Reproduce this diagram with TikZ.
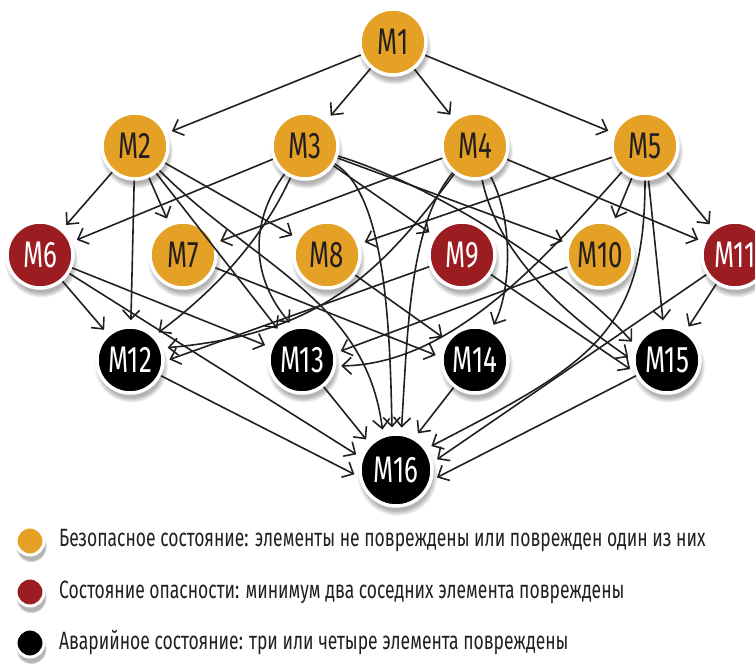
\documentclass[tikz,border=0pt]{standalone}
\usepackage{fontspec}
\setmainfont{Fira Sans}[FakeStretch=0.7]
\usetikzlibrary{arrows.meta,shadows}
\definecolor{cSafe}{RGB}{229,161,37}
\definecolor{cDanger}{RGB}{155,29,34}
\definecolor{cDark}{RGB}{35,31,32}
\begin{document}
\begin{tikzpicture}[x=1pt,y=1pt,
 mstate/.style={circle,minimum size=66pt,inner sep=0pt,draw=white,line width=3.5pt,
   font=\fontsize{37}{37}\selectfont,
   circular drop shadow={shadow xshift=1pt,shadow yshift=-5pt,shadow scale=1.12,opacity=0.6}},
 msafe/.style={mstate,fill=cSafe,text=cDark},
 mdanger/.style={mstate,fill=cDanger,text=white},
 mcrash/.style={mstate,fill=black,text=white},
 medge/.style={draw=cDark,line width=1.6pt,-{Straight Barb[length=9pt,width=17pt]},shorten >=5pt},
 legdot/.style={minimum size=28pt,line width=3pt},
 legtext/.style={anchor=west,inner sep=0pt,text=cDark,font=\fontsize{25}{28}\selectfont}]
\useasboundingbox (0,0) rectangle (755,664);
% nodes
\node[msafe] (M1) at (393,622) {M1};
\node[msafe] (M2) at (135,518) {M2};
\node[msafe] (M3) at (305,518) {M3};
\node[msafe] (M4) at (475,518) {M4};
\node[msafe] (M5) at (645,518) {M5};
\node[mdanger] (M6) at (40,409) {M6};
\node[msafe] (M7) at (183,409) {M7};
\node[msafe] (M8) at (327,409) {M8};
\node[mdanger] (M9) at (462,409) {M9};
\node[msafe] (M10) at (600,409) {M10};
\node[mdanger] (M11) at (735,409) {M11};
\node[mcrash] (M12) at (130,304) {M12};
\node[mcrash] (M13) at (302,304) {M13};
\node[mcrash] (M14) at (475,304) {M14};
\node[mcrash] (M15) at (667,304) {M15};
\node[mcrash,minimum size=72pt] (M16) at (396,194) {M16};
% edges
\draw[medge] (M1) -- (M2);
\draw[medge] (M1) -- (M3);
\draw[medge] (M1) -- (M4);
\draw[medge] (M1) -- (M5);
\draw[medge] (M2) -- (M6);
\draw[medge] (M2) -- (M7);
\draw[medge] (M2) -- (M8);
\draw[medge] (M2) -- (M12);
\draw[medge] (M2) -- (M13);
\draw[medge] (M2) .. controls (256,397) and (366,364) .. (M16.110);
\draw[medge] (M3) -- (M6);
\draw[medge] (M3) -- (M9);
\draw[medge] (M3) -- (M10);
\draw[medge] (M3) .. controls (260,420) and (210,370) .. (M12.45);
\draw[medge] (M3) .. controls (248,440) and (252,385) .. (M13.105);
\draw[medge] (M3) .. controls (430,480) and (560,400) .. (M15.155);
\draw[medge] (M3) .. controls (385,470) and (390,340) .. (M16.96);
\draw[medge] (M4) -- (M7);
\draw[medge] (M4) -- (M11);
\draw[medge] (M4) .. controls (515,440) and (510,370) .. (M14);
\draw[medge] (M4) .. controls (380,390) and (320,330) .. (M12.20);
\draw[medge] (M4) .. controls (500,400) and (580,340) .. (M15.180);
\draw[medge] (M4) .. controls (410,440) and (408,340) .. (M16.82);
\draw[medge] (M5) -- (M8);
\draw[medge] (M5) -- (M10);
\draw[medge] (M5) -- (M11);
\draw[medge] (M5) -- (M15);
\draw[medge] (M5) .. controls (540,400) and (450,300) .. (M13.-10);
\draw[medge] (M5) .. controls (645,330) and (590,300) .. (M16.35);
\draw[medge] (M6) -- (M12);
\draw[medge] (M6) -- (M13);
\draw[medge] (M6) -- (M16.160);
\draw[medge] (M7) -- (M14.175);
\draw[medge] (M8) -- (M14.145);
\draw[medge] (M9) -- (M12.-2);
\draw[medge] (M9) -- (M15.200);
\draw[medge] (M10) -- (M13.12);
\draw[medge] (M11) -- (M15);
\draw[medge] (M11) -- (M16.12);
\draw[medge] (M12) -- (M16.190);
\draw[medge] (M13) -- (M16.135);
\draw[medge] (M14) -- (M16.60);
\draw[medge] (M15) -- (M16.-15);
% legend
\node[msafe,legdot] (L1) at (30,123) {};
\node[mdanger,legdot] (L2) at (30,72) {};
\node[mcrash,legdot] (L3) at (30,21) {};
\node[legtext] (T1) at (59,123) {Безопасное состояние: элементы не повреждены или поврежден один из них};
\node[legtext] (T2) at (59,72) {Состояние опасности: минимум два соседних элемента повреждены};
\node[legtext] (T3) at (59,21) {Аварийное состояние: три или четыре элемента повреждены};
\end{tikzpicture}
\end{document}
